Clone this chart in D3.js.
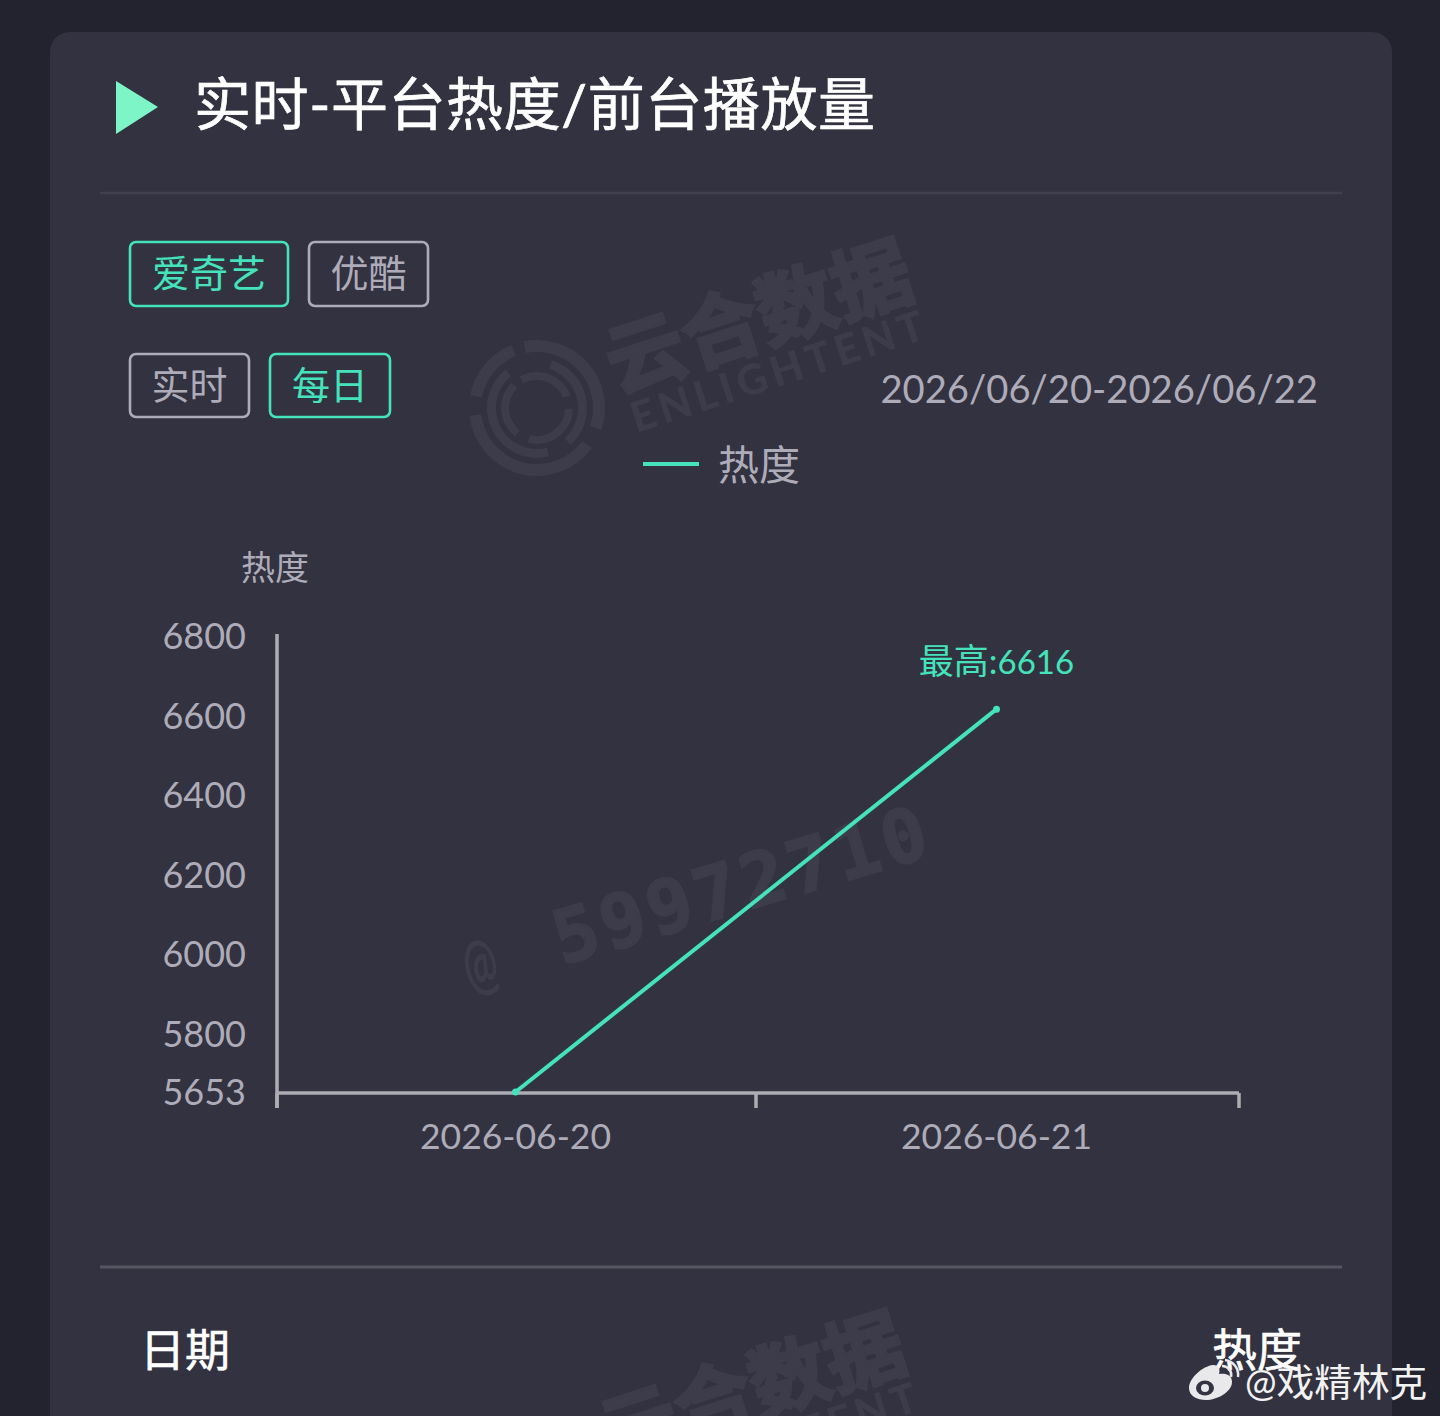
<!DOCTYPE html>
<html><head><meta charset="utf-8">
<style>html,body{margin:0;padding:0;background:#23232f;overflow:hidden}svg{display:block}
text{font-family:Lato,"Noto Sans CJK SC",sans-serif}</style>
<script src="https://cdn.jsdelivr.net/npm/d3@7"></script></head><body><div id="c"></div>
<script>
const categories=["2026-06-20","2026-06-21"];
const heatValues=[5653,6616];
const yTicks=[5653,5800,6000,6200,6400,6600,6800];
const platforms=["爱奇艺","优酷"];
const periods=["实时","每日"];
const title="实时-平台热度/前台播放量";
const dateRange="2026/06/20-2026/06/22";
const seriesName="热度";
const peakLabel="最高:";
const tableHeads=["日期","热度"];

const W=1440,H=1416,teal="#44e3bb",grey="#aeacb9",panel="#323240";
const svg=d3.select("#c").append("svg").attr("width",W).attr("height",H);
svg.append("rect").attr("width",W).attr("height",H).attr("fill","#23232f");
svg.append("rect").attr("x",50).attr("y",32).attr("width",1342).attr("height",1420).attr("rx",20).attr("fill",panel);

// watermarks
const wmc="#3c3c4a";
function brand(g){
  g.append("text").attr("x",0).attr("y",0).attr("font-size",79).attr("font-weight",700).attr("fill",wmc).attr("stroke",wmc).attr("stroke-width",3).text("云合数据");
  g.append("text").attr("x",6).attr("y",44).attr("font-size",42).attr("font-weight",900).attr("fill",wmc).attr("textLength",306).text("ENLIGHTENT");
}
brand(svg.append("g").attr("transform","translate(617,393) rotate(-18)"));
brand(svg.append("g").attr("transform","translate(610,1465) rotate(-18)"));
const logo=svg.append("g").attr("transform","translate(537,408)");
const arc=d3.arc();
[[56,68,[[-0.2,1.9],[2.2,4.6],[4.9,5.9]]],[41,50,[[0.3,2.4],[2.9,5.6]]],[28,36,[[-0.5,1.2],[1.6,3.4],[3.8,5.5]]]].forEach(([r0,r1,ss])=>ss.forEach(([a,b])=>
  logo.append("path").attr("d",arc({innerRadius:r0,outerRadius:r1,startAngle:a,endAngle:b})).attr("fill",wmc)));
svg.append("text").attr("transform","translate(562,965) rotate(-16.5)").style("font-family","'DejaVu Sans Mono',monospace")
  .attr("font-size",74).attr("font-weight",700).attr("fill",wmc).attr("stroke",wmc).attr("stroke-width",2).attr("textLength",386).text("59972710");
svg.append("text").attr("transform","translate(470,992) rotate(-15) scale(0.72,1.25)").attr("font-size",56).attr("font-weight",700).attr("fill",wmc).text("@");

// header
svg.append("path").attr("d",d3.line()([[116,81],[158,107],[116,134]])+"Z").attr("fill","#7df5c6");
svg.append("text").attr("x",194).attr("y",125).attr("font-size",57).attr("fill","#fff").attr("stroke","#fff").attr("stroke-width",0.7).attr("textLength",681).text(title);
svg.append("line").attr("x1",100).attr("x2",1342).attr("y1",193).attr("y2",193).attr("stroke","#41414e").attr("stroke-width",2.5);

// buttons
function btn(x,y,w,h,label,on){
  svg.append("rect").attr("x",x).attr("y",y).attr("width",w).attr("height",h).attr("rx",6).attr("fill","none")
    .attr("stroke",on?teal:grey).attr("stroke-width",2.6);
  svg.append("text").attr("x",x+w/2).attr("y",y+h/2+13).attr("text-anchor","middle").attr("font-size",38)
    .attr("fill",on?teal:grey).text(label);
}
btn(130,242,158,64,platforms[0],true);
btn(309,242,119,64,platforms[1],false);
btn(130,354,119,63,periods[0],false);
btn(270,354,120,63,periods[1],true);
svg.append("text").attr("x",1318).attr("y",403).attr("text-anchor","end").attr("font-size",38.2).attr("fill",grey).text(dateRange);

// legend
svg.append("line").attr("x1",643).attr("x2",699).attr("y1",464).attr("y2",464).attr("stroke",teal).attr("stroke-width",4);
svg.append("text").attr("x",718).attr("y",480).attr("font-size",41).attr("fill",grey).text(seriesName);

// chart
const x=d3.scaleBand().domain(categories).range([277,1239]);
const y=d3.scaleLinear().domain([5653,6800]).range([1092,636]);
const axc="#aeadb2";
const gx=svg.append("g").attr("transform","translate(0,1093)").call(d3.axisBottom(x).tickSize(0).tickPadding(31));
gx.select(".domain").remove();
gx.append("path").attr("d","M277,0H1239").attr("stroke",axc).attr("stroke-width",3.5).attr("fill","none");
[277,756,1239].forEach(v=>gx.append("line").attr("x1",v).attr("x2",v).attr("y1",0).attr("y2",15).attr("stroke",axc).attr("stroke-width",3.5));
gx.selectAll(".tick text").attr("font-size",35.5).attr("fill",grey).attr("transform","translate(-2,0)").style("font-family","Lato");
const gy=svg.append("g").attr("transform","translate(277,0)").call(d3.axisLeft(y).tickValues(yTicks).tickFormat(d3.format("d")).tickSize(0).tickPadding(31));
gy.select(".domain").remove();
gy.append("line").attr("y1",634).attr("y2",1108).attr("stroke",axc).attr("stroke-width",3.5);
gy.selectAll(".tick text").attr("font-size",36).attr("fill",grey).attr("transform","translate(0,1)").style("font-family","Lato");
svg.append("text").attr("x",275).attr("y",580).attr("text-anchor","middle").attr("font-size",34).attr("fill",grey).text(seriesName);
const pts=categories.map((c,i)=>[x(c)+x.bandwidth()/2-2,y(heatValues[i])]);
svg.append("path").attr("d",d3.line()(pts)).attr("fill","none").attr("stroke",teal).attr("stroke-width",4);
svg.selectAll("circle.p").data(pts).join("circle").attr("cx",d=>d[0]).attr("cy",d=>d[1]).attr("r",3.5).attr("fill",teal);
const peak=svg.append("text").attr("x",pts[1][0]).attr("y",674).attr("text-anchor","middle").attr("font-size",35).attr("fill",teal);
peak.append("tspan").text(peakLabel);
peak.append("tspan").attr("font-size",33).text(d3.max(heatValues));

// table
svg.append("line").attr("x1",100).attr("x2",1342).attr("y1",1267).attr("y2",1267).attr("stroke","#565662").attr("stroke-width",3);
svg.append("text").attr("x",140).attr("y",1367).attr("font-size",45).attr("fill","#fff").attr("stroke","#fff").attr("stroke-width",0.6).text(tableHeads[0]);
svg.append("text").attr("x",1212).attr("y",1367).attr("font-size",45).attr("fill","#fff").attr("stroke","#fff").attr("stroke-width",0.6).text(tableHeads[1]);

// repost mark
const wb=svg.append("g").attr("fill","#e9e9ec");
wb.append("path").attr("d","M1189,1388c0,-10 14,-22 24,-23c7,0 7,6 6,9c7,-1 13,1 13,8c0,10 -15,18 -26,18c-9,0 -17,-4 -17,-12z");
wb.append("ellipse").attr("cx",1205).attr("cy",1388).attr("rx",9).attr("ry",7.5).attr("fill","#333341");
wb.append("circle").attr("cx",1205).attr("cy",1388).attr("r",4);
wb.append("path").attr("d","M1222,1366a9,9 0 0 1 9,11M1225,1360a15,15 0 0 1 13,17").attr("fill","none").attr("stroke","#e9e9ec").attr("stroke-width",2.5);
svg.append("text").attr("x",1245).attr("y",1396).attr("font-size",37.7).attr("fill","#f2f2f2").text("@戏精林克");
</script></body></html>
